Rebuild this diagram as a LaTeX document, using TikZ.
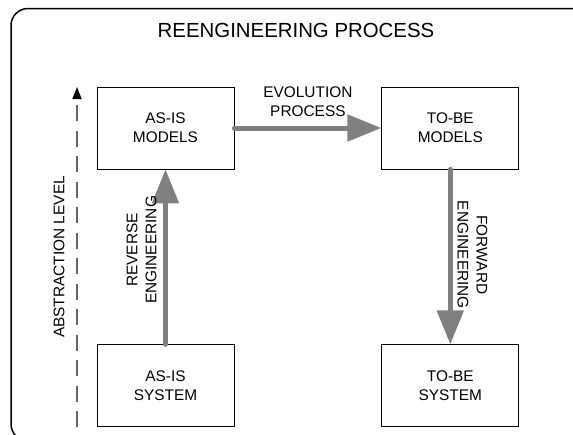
\documentclass[tikz,border=0pt]{standalone}
\usepackage{fontspec}
\setmainfont{Liberation Sans}
\usetikzlibrary{arrows.meta, positioning, calc}

\begin{document}
\begin{tikzpicture}[
            x=1pt, y=-1pt,
            block/.style={rectangle, draw=black, line width=0.8pt, fill=white, minimum width=137pt, minimum height=82pt, align=center, font=\fontsize{15.4pt}{19pt}\selectfont},
            flow/.style={draw=gray, line width=5pt, line cap=round, -{Triangle[length=34pt, width=26pt]}},
            lbl/.style={align=center, inner sep=0pt, font=\fontsize{15.4pt}{19pt}\selectfont},
            levelline/.style={draw=black!60, line width=1.6pt, dash pattern=on 16pt off 9.5pt, -{Triangle[length=12pt, width=9pt, color=black]}}
        ]

        % --- Page and frame ---
        \useasboundingbox (0,0) rectangle (573,434);
        \fill[white] (0,0) rectangle (573,434);
        \begin{scope}
            \clip (0,0) rectangle (573,434);
            \draw[line width=1.5pt, rounded corners=17pt] (11,8.5) -- (700,8.5) -- (700,441) -- (11,441) -- cycle;
        \end{scope}
        \node (title) [font=\fontsize{20.4pt}{24pt}\selectfont] at (296,30) {REENGINEERING PROCESS};

        % --- Boxes ---
        \node[block] (asis_models) at (165.5,128) {AS-IS\\MODELS};
        \node[block, right=147pt of asis_models] (tobe_models) {TO-BE\\MODELS};
        \node[block, below=175pt of asis_models] (asis_system) {AS-IS\\SYSTEM};
        \node[block, below=175pt of tobe_models] (tobe_system) {TO-BE\\SYSTEM};

        % --- Abstraction axis ---
        \coordinate (axtop) at (77,87);
        \coordinate (axbot) at (77,427);
        \draw[levelline] (axbot) -- (axtop);
        \node[lbl, rotate=90] (level) at ($(axbot)!0.5!(axtop) + (-18,0)$) {ABSTRACTION LEVEL};

        % --- Process arrows ---
        \draw[flow] (asis_system.north) -- (asis_models.south);
        \draw[flow] (asis_models.east) -- node[lbl, above=8.5pt] (evolution) {EVOLUTION\\PROCESS} (tobe_models.west);
        \draw[flow] (tobe_models.south) -- (tobe_system.north);

        \node[lbl, rotate=90] (reverse) at ($(asis_models.south)!0.5!(asis_system.north) + (-24,-7)$) {REVERSE\\ENGINEERING};
        \node[lbl, rotate=-90] (forward) at ($(tobe_models.south)!0.5!(tobe_system.north) + (22,-2)$) {FORWARD\\ENGINEERING};

\end{tikzpicture}
\end{document}
